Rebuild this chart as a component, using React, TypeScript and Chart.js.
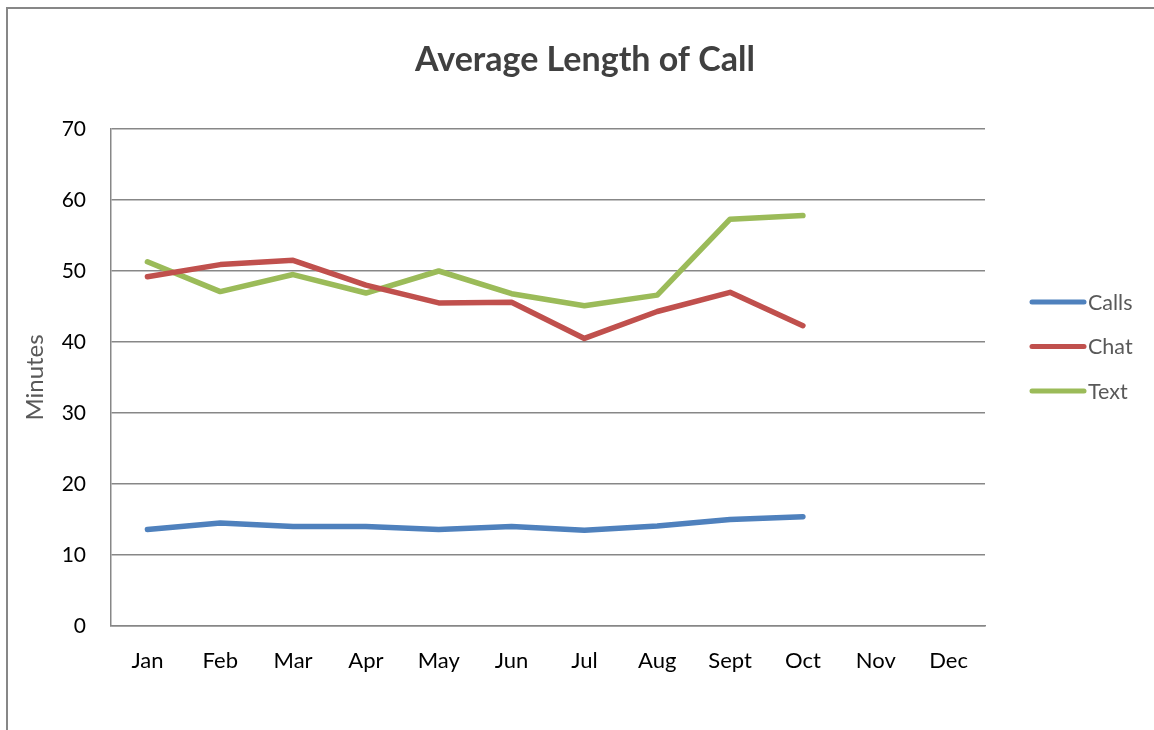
import React, { useEffect, useRef } from "react";
import { Chart, registerables } from "chart.js";

Chart.register(...registerables);

const months = ["Jan", "Feb", "Mar", "Apr", "May", "Jun", "Jul", "Aug", "Sept", "Oct", "Nov", "Dec"];
const calls = [13.6, 14.5, 14.0, 14.0, 13.6, 14.0, 13.5, 14.1, 15.0, 15.4, null, null];
const chat = [49.2, 50.9, 51.5, 48.0, 45.5, 45.6, 40.5, 44.3, 47.0, 42.3, null, null];
const text = [51.3, 47.1, 49.5, 46.9, 50.0, 46.8, 45.1, 46.6, 57.3, 57.8, null, null];
const seriesNames = ["Calls", "Chat", "Text"];
const seriesColors = ["#4F81BD", "#C0504D", "#9BBB59"];
const yTicks = { min: 0, max: 70, step: 10 };
const titleText = "Average Length of Call";
const yTitle = "Minutes";

const FONT = "Lato, 'Noto Sans', sans-serif";

const decorPlugin = {
  id: "decor",
  beforeDraw(chart: any) {
    const ctx = chart.ctx;
    ctx.save();
    ctx.fillStyle = "#ffffff";
    ctx.fillRect(0, 0, chart.width, chart.height);
    ctx.strokeStyle = "#878787";
    ctx.lineWidth = 2;
    ctx.beginPath();
    ctx.moveTo(7, chart.height + 5);
    ctx.lineTo(7, 8);
    ctx.lineTo(chart.width + 5, 8);
    ctx.stroke();
    ctx.restore();
  },
  afterDraw(chart: any) {
    const ctx = chart.ctx;
    ctx.save();
    // title
    ctx.fillStyle = "#404040";
    ctx.font = `bold 34px ${FONT}`;
    ctx.textAlign = "center";
    ctx.textBaseline = "middle";
    ctx.fillText(titleText, 585, 60);
    // legend
    const ds = chart.data.datasets;
    const x0 = 1032;
    const x1 = 1084;
    const yStart = 302;
    const gap = 44.5;
    ctx.font = `21.5px ${FONT}`;
    ctx.textAlign = "left";
    ds.forEach((d: any, i: number) => {
      const y = yStart + i * gap;
      ctx.strokeStyle = d.borderColor;
      ctx.lineWidth = 5;
      ctx.lineCap = "round";
      ctx.beginPath();
      ctx.moveTo(x0, y);
      ctx.lineTo(x1, y);
      ctx.stroke();
      ctx.fillStyle = "#595959";
      ctx.fillText(d.label, x1 + 4, y + 1);
    });
    ctx.restore();
  },
};

export default function App() {
  const ref = useRef<HTMLCanvasElement | null>(null);
  useEffect(() => {
    if (!ref.current) return;
    const series = [calls, chat, text];
    const chart = new Chart(ref.current, {
      type: "line",
      data: {
        labels: months,
        datasets: series.map((vals, i) => ({
          label: seriesNames[i],
          data: vals,
          borderColor: seriesColors[i],
          backgroundColor: seriesColors[i],
          borderWidth: 5.5,
          pointRadius: 0,
          tension: 0,
          borderCapStyle: "round",
          borderJoinStyle: "round",
          spanGaps: false,
        })),
      },
      options: {
        animation: false,
        responsive: false,
        events: [],
        layout: { padding: { left: 0, top: 129, right: 169, bottom: 44 } },
        plugins: {
          legend: { display: false },
          title: { display: false },
          tooltip: { enabled: false },
        },
        scales: {
          x: {
            offset: true,
            grid: { display: false, drawTicks: false },
            border: { display: true, color: "#878787", width: 1.5 },
            ticks: { color: "#000000", font: { family: FONT, size: 22 }, padding: 22, maxRotation: 0, autoSkip: false },
            afterFit: (s: any) => {
              s.height = 60;
            },
          },
          y: {
            min: yTicks.min,
            max: yTicks.max,
            ticks: { stepSize: yTicks.step, color: "#000000", font: { family: FONT, size: 21 }, padding: 25 },
            grid: { color: "#878787", lineWidth: 1.5, drawTicks: false },
            border: { display: true, color: "#878787", width: 1.5 },
            title: { display: true, text: yTitle, color: "#595959", font: { family: FONT, size: 24 }, padding: { top: 21, bottom: 0 } },
            afterFit: (s: any) => {
              s.width = 111;
            },
          },
        },
      },
      plugins: [decorPlugin],
    } as any);
    return () => chart.destroy();
  }, []);
  return (
    <div style={{ position: "fixed", left: 0, top: 0, width: 1154, height: 730, overflow: "hidden", background: "#fff" }}>
      <canvas ref={ref} width={1154} height={730} style={{ display: "block", width: 1154, height: 730 }} />
    </div>
  );
}
